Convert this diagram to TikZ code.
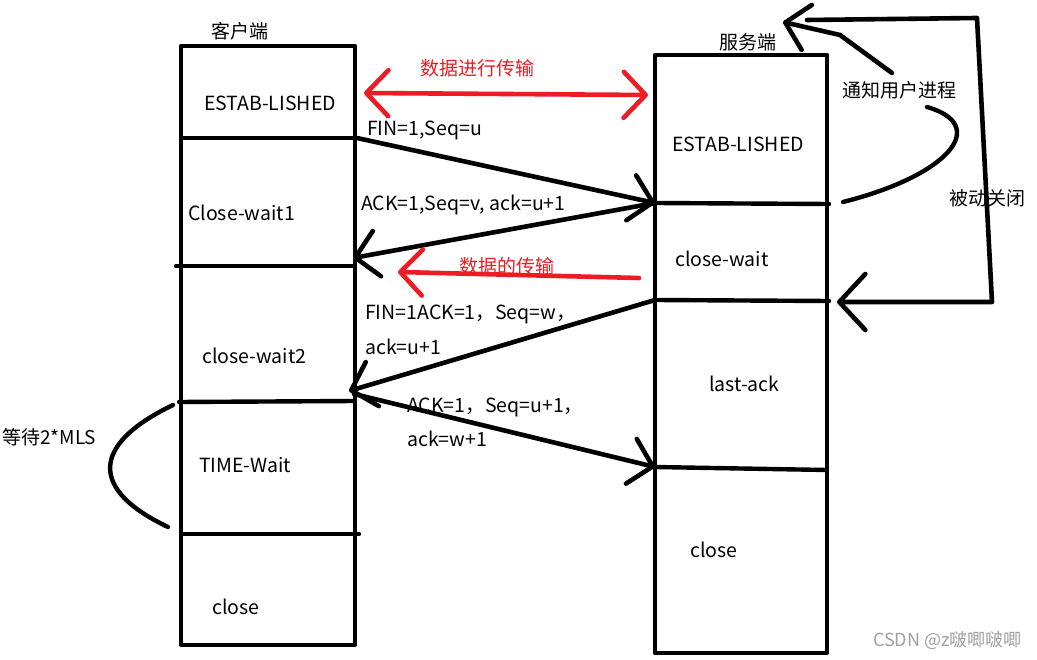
\documentclass[tikz,border=0pt]{standalone}
\usepackage{fontspec}
\setmainfont{Noto Sans CJK SC}
\usetikzlibrary{arrows.meta}
\definecolor{pred}{RGB}{237,28,36}
\definecolor{wmgray}{RGB}{160,160,160}
\tikzset{
  boxline/.style={line width=4.4pt, line cap=round, line join=round},
  conn/.style={line width=4.6pt, line cap=round, line join=round, -{Straight Barb[length=22pt,width=46pt,round]}},
  redconn/.style={conn, draw=pred},
  lbl/.style={font=\fontsize{19.5}{22}\selectfont, inner sep=0pt, anchor=west},
  state/.style={font=\fontsize{19.5}{22}\selectfont, inner sep=0pt},
  cjk/.style={font=\fontsize{19}{22}\selectfont, inner sep=0pt},
  redtxt/.style={cjk, text=pred},
}
\begin{document}
\begin{tikzpicture}[x=1pt,y=-1pt]
\useasboundingbox[fill=white] (0,0) rectangle (1037,660);

% client column
\draw[boxline] (181,46) rectangle (355,645);
\draw[boxline] (181,138) -- (355,138);
\draw[boxline] (176,266) -- (355,266);
\draw[boxline] (179,402) -- (355,401);
\draw[boxline] (181,534) -- (359,534);

% server column
\draw[boxline] (655,55) rectangle (827,653);
\draw[boxline] (655,203) -- (829,204);
\draw[boxline] (655,300) -- (829,301);
\draw[boxline] (655,467) -- (827,470);

% coordinates
\coordinate (cEst) at (357,138);
\coordinate (sEst) at (655,203);
\coordinate (cCw1) at (353,258);
\coordinate (sCw) at (655,300);
\coordinate (cCw2) at (349,391);
\coordinate (cTw) at (354,394);
\coordinate (sLa) at (655,467);
\coordinate (rL) at (364,93);
\coordinate (rR) at (648,95);
\coordinate (rS) at (639,278);
\coordinate (rE) at (398,272);

% state labels
\node[cjk] (client) at (240,31) {客户端};
\node[cjk] (server) at (748,42) {服务端};
\node[state] (ce) at (270,103) {ESTAB-LISHED};
\node[state,anchor=west] (cw1) at (188,213) {Close-wait1};
\node[state,anchor=west] (cw2) at (202,356) {close-wait2};
\node[state,anchor=west] (tw) at (199,465) {TIME-Wait};
\node[state,anchor=west] (cc) at (212,607) {close};
\node[state] (se) at (738,144) {ESTAB-LISHED};
\node[state,anchor=west] (scw) at (675,259) {close-wait};
\node[state,anchor=west] (sla) at (709,384) {last-ack};
\node[state,anchor=west] (sc) at (690,550) {close};

% message labels
\node[lbl] (m1) at (367,130) {FIN=1,Seq=u};
\node[lbl] (m2) at (361,205) {ACK=1,Seq=v, ack=u+1};
\node[lbl] (m3) at (365,314) {FIN=1ACK=1，Seq=w，};
\node[lbl] (m3b) at (365,347) {ack=u+1};
\node[lbl] (m4) at (407,407) {ACK=1，Seq=u+1，};
\node[lbl] (m4b) at (407,439) {ack=w+1};

\node[redtxt] (d1) at (477,68) {数据进行传输};
\node[redtxt] (d2) at (507,266) {数据的传输};

% messages
\draw[conn] (cEst) -- (sEst);
\draw[conn] (sEst) -- (cCw1);
\draw[conn] (sCw) -- (cCw2);
\draw[conn] (cTw) -- (sLa);
\draw[redconn, {Straight Barb[length=22pt,width=46pt,round]}-{Straight Barb[length=22pt,width=46pt,round]}] (rL) -- (rR);
\draw[redconn] (rS) -- (rE);

% notify user process
\node[cjk] (notify) at (899,90) {通知用户进程};
\coordinate (nS) at (843,202);
\coordinate (nE) at (927,107);
\draw[boxline] (nS) .. controls (950,175) and (990,125) .. (nE);
\coordinate (nA) at (892,73);
\coordinate (nB) at (840,35);
\coordinate (nT) at (783,22);
\draw[conn] (nA) -- (nB) -- (nT);

% passive close
\node[cjk] (passive) at (987,198) {被动关闭};
\coordinate (pA) at (807,20);
\coordinate (pB) at (977,18);
\coordinate (pC) at (992,302);
\coordinate (pT) at (837,302);
\draw[conn, -{Straight Barb[length=26pt,width=56pt,round]}] (pA) -- (pB) -- (pC) -- (pT);

% wait 2*MLS
\node[cjk,anchor=west] (wait) at (2,437) {等待2*MLS};
\coordinate (wS) at (173,405);
\coordinate (wE) at (168,527);
\draw[boxline] (wS) .. controls (90,445) and (90,490) .. (wE);

% watermark
\node[font=\fontsize{18}{20}\selectfont, text=wmgray, inner sep=0pt, anchor=east] (wm) at (1022,641) {CSDN @z啵唧啵唧};
\end{tikzpicture}
\end{document}
